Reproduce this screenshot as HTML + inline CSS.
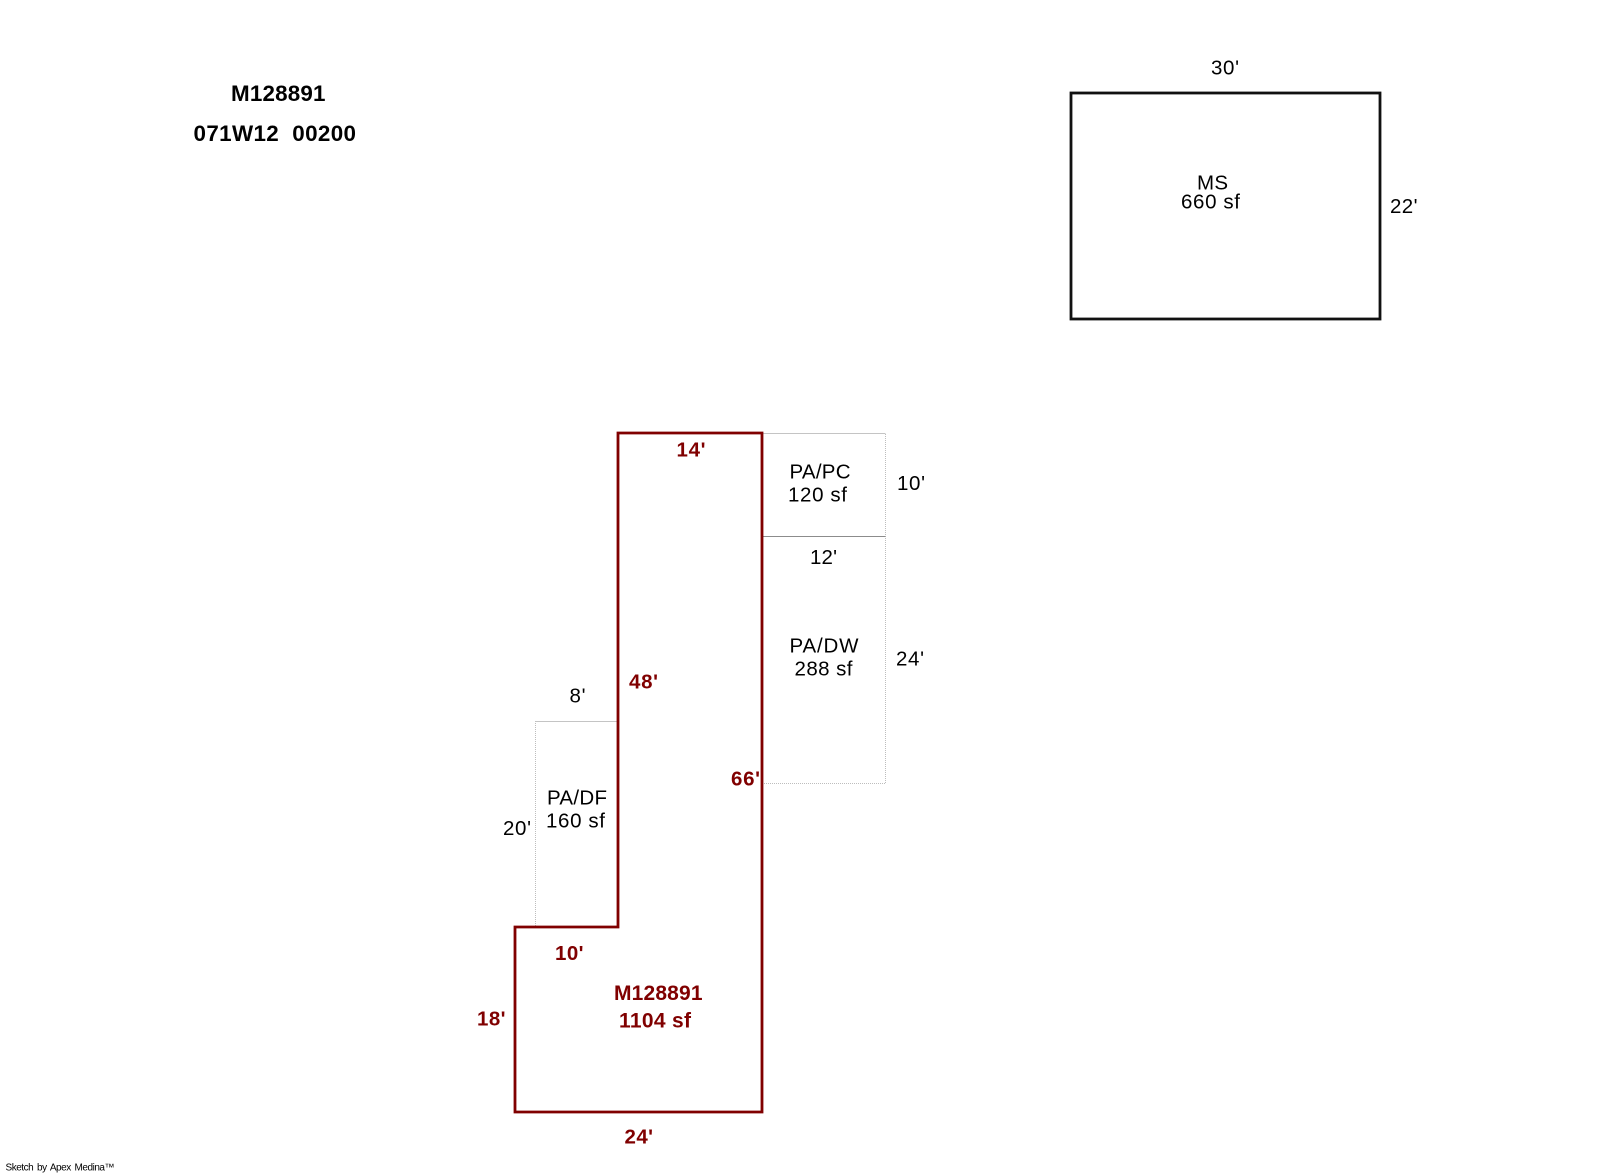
<!DOCTYPE html>
<html>
<head>
<meta charset="utf-8">
<title>Sketch M128891</title>
<style>
html,body{margin:0;padding:0;background:#fff;}
svg{display:block;}
text{font-family:"Liberation Sans",Arial,sans-serif;font-size:20.5px;fill:#000;}
.b{font-weight:bold;}
.r{font-weight:bold;fill:#800000;}
</style>
</head>
<body>
<svg xmlns="http://www.w3.org/2000/svg" width="1600" height="1174" viewBox="0 0 1600 1174">
<rect width="1600" height="1174" fill="#fff"/>

<!-- Gray sub-areas -->
<g fill="none" stroke="#bdbdbd" stroke-width="1">
<path d="M762 433.5H885.5V783.5H762" stroke-dasharray="1 1"/>
<path d="M762 433.5H885.5" stroke="#c4c4c4"/>
<path d="M762 536.5H885.5" stroke="#8c8c8c"/>
<path d="M535.5 926V721.5H618" stroke-dasharray="1 1"/>
<path d="M535.5 721.5H618" stroke="#c4c4c4"/>
</g>

<!-- MS rectangle -->
<rect x="1071" y="93" width="309" height="226" fill="none" stroke="#111" stroke-width="2.8"/>

<!-- Main red outline -->
<path d="M618 433H762V1112H515V927H618Z" fill="none" stroke="#800000" stroke-width="2.8" stroke-linejoin="miter"/>

<!-- Header -->
<text class="b" x="231" y="101" style="font-size:22.4px" textLength="94.5">M128891</text>
<text class="b" x="193.5" y="141" style="font-size:22.4px" textLength="162.5" xml:space="preserve">071W12  00200</text>

<!-- MS labels -->
<text x="1211" y="74.5" textLength="28">30'</text>
<text x="1197" y="189.5" textLength="31">MS</text>
<text x="1181" y="208.5" textLength="59">660 sf</text>
<text x="1390" y="213" textLength="27.5">22'</text>

<!-- Black labels -->
<text x="789.5" y="478.5" textLength="61">PA/PC</text>
<text x="788" y="501.5" textLength="59">120 sf</text>
<text x="897" y="490" textLength="28">10'</text>
<text x="810" y="564" textLength="27">12'</text>
<text x="789.5" y="652.5" textLength="69">PA/DW</text>
<text x="794.5" y="675.5" textLength="58">288 sf</text>
<text x="896" y="665.5" textLength="28">24'</text>
<text x="569.5" y="702.5" textLength="16">8'</text>
<text x="547" y="804.5" textLength="60">PA/DF</text>
<text x="546" y="827.5" textLength="59">160 sf</text>
<text x="503" y="835" textLength="28">20'</text>

<!-- Red labels -->
<text class="r" x="676.5" y="456.5" textLength="29">14'</text>
<text class="r" x="629" y="688.5" textLength="29">48'</text>
<text class="r" x="731" y="785.5" textLength="29">66'</text>
<text class="r" x="555" y="960" textLength="28.5">10'</text>
<text class="r" x="614" y="1000" textLength="88.5" style="font-size:21px">M128891</text>
<text class="r" x="619" y="1027.5" textLength="72" style="font-size:21px">1104 sf</text>
<text class="r" x="477" y="1025.5" textLength="28.5">18'</text>
<text class="r" x="624.5" y="1143.5" textLength="28.5">24'</text>

<!-- Footer -->
<text x="5.5" y="1170.5" style="font-size:10px;word-spacing:1.5px" textLength="109">Sketch by Apex Medina™</text>
</svg>
</body>
</html>
